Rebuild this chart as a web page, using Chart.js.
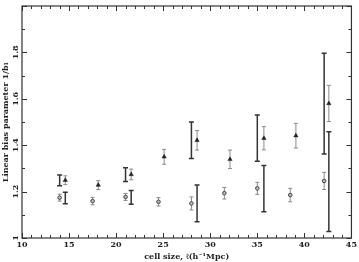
<!DOCTYPE html>
<html>
<head>
<meta charset="utf-8">
<script src="https://cdn.jsdelivr.net/npm/chart.js@4"></script>
<style>
  html, body { margin: 0; padding: 0; background: #fff; }
  #wrap { width: 359px; height: 262px; }
</style>
</head>
<body>
<div id="wrap"><canvas id="c"></canvas></div>
<script>
// circles (lower series) with grey error bars
const circX = [14.0, 17.5, 21.0, 24.5, 28.0, 31.5, 35.0, 38.5, 42.1];
const circY = [1.174, 1.159, 1.177, 1.156, 1.149, 1.193, 1.214, 1.185, 1.246];
const circErr = [0.015, 0.016, 0.015, 0.018, 0.028, 0.025, 0.026, 0.029, 0.037];

// triangles (upper series) with grey error bars
const triX = [14.6, 18.1, 21.6, 25.1, 28.6, 32.1, 35.7, 39.1, 42.6];
const triY = [1.249, 1.228, 1.274, 1.350, 1.421, 1.339, 1.430, 1.441, 1.580];
const triErr = [0.019, 0.019, 0.023, 0.032, 0.042, 0.040, 0.050, 0.053, 0.078];

// black range bars
const rangeUpX = [14.0, 21.0, 28.0, 35.0, 42.1];
const rangeUpLo = [1.225, 1.243, 1.343, 1.331, 1.362];
const rangeUpHi = [1.272, 1.303, 1.500, 1.530, 1.796];
const rangeLowX = [14.6, 21.6, 28.6, 35.7, 42.6];
const rangeLowLo = [1.148, 1.145, 1.070, 1.113, 1.028];
const rangeLowHi = [1.197, 1.205, 1.228, 1.313, 1.458];

const xTicks = [10, 15, 20, 25, 30, 35, 40, 45];
const yTicks = [1.0, 1.2, 1.4, 1.6, 1.8, 2.0];
const yTickLabels = ["1", "1.2", "1.4", "1.6", "1.8", ""];

const FONT = "'DejaVu Serif', serif";

// error bars and range bars drawn with the chart's scales
const errorBars = {
  id: "errorBars",
  beforeDatasetsDraw(chart) {
    const { ctx, scales: { x, y } } = chart;
    const bar = (xv, lo, hi, cap, color, width) => {
      const px = x.getPixelForValue(xv);
      const p1 = y.getPixelForValue(lo);
      const p2 = y.getPixelForValue(hi);
      ctx.strokeStyle = color;
      ctx.lineWidth = width;
      ctx.beginPath();
      ctx.moveTo(px, p1); ctx.lineTo(px, p2);
      ctx.moveTo(px - cap, p1); ctx.lineTo(px + cap, p1);
      ctx.moveTo(px - cap, p2); ctx.lineTo(px + cap, p2);
      ctx.stroke();
    };
    ctx.save();
    circX.forEach((v, i) => bar(v, circY[i] - circErr[i], circY[i] + circErr[i], 2, "#8a8a8a", 1));
    triX.forEach((v, i) => bar(v, triY[i] - triErr[i], triY[i] + triErr[i], 2, "#8a8a8a", 1));
    rangeUpX.forEach((v, i) => bar(v, rangeUpLo[i], rangeUpHi[i], 2.5, "#333", 1.5));
    rangeLowX.forEach((v, i) => bar(v, rangeLowLo[i], rangeLowHi[i], 2.5, "#333", 1.5));
    ctx.restore();
  }
};

// frame with inward ticks on all four sides, plus rotated y labels
const frameTicks = {
  id: "frameTicks",
  afterDraw(chart) {
    const { ctx, chartArea: a, scales: { x, y } } = chart;
    ctx.save();
    ctx.strokeStyle = "#333";
    ctx.lineWidth = 1.2;
    ctx.strokeRect(a.left, a.top, a.right - a.left, a.bottom - a.top);
    ctx.lineWidth = 1;
    ctx.beginPath();
    for (let v = 10; v <= 45; v += 1) {
      const px = Math.round(x.getPixelForValue(v)) + 0.5;
      const len = v % 5 === 0 ? 5 : 3;
      ctx.moveTo(px, a.bottom); ctx.lineTo(px, a.bottom - len);
      ctx.moveTo(px, a.top); ctx.lineTo(px, a.top + len);
    }
    for (let k = 10; k <= 20; k++) {
      const py = Math.round(y.getPixelForValue(k / 10)) + 0.5;
      const len = k % 2 === 0 ? 5 : 3;
      ctx.moveTo(a.left, py); ctx.lineTo(a.left + len, py);
      ctx.moveTo(a.right, py); ctx.lineTo(a.right - len, py);
    }
    ctx.stroke();

    ctx.fillStyle = "#222";
    ctx.font = "bold 8px " + FONT;
    ctx.textAlign = "center";
    ctx.textBaseline = "middle";
    yTicks.forEach((v, i) => {
      ctx.save();
      ctx.translate(a.left - 6, y.getPixelForValue(v));
      ctx.rotate(-Math.PI / 2);
      ctx.fillText(yTickLabels[i], 0, 0);
      ctx.restore();
    });
    ctx.restore();
  }
};

new Chart(document.getElementById("c"), {
  type: "scatter",
  data: {
    datasets: [
      {
        label: "circles",
        data: circX.map((v, i) => ({ x: v, y: circY[i] })),
        pointStyle: "circle",
        pointRadius: 1.8,
        pointBackgroundColor: "#bbb",
        pointBorderColor: "#444",
        pointBorderWidth: 1
      },
      {
        label: "triangles",
        data: triX.map((v, i) => ({ x: v, y: triY[i] })),
        pointStyle: "triangle",
        pointRadius: 2.5,
        pointBackgroundColor: "#222",
        pointBorderColor: "#222",
        pointBorderWidth: 0.5
      }
    ]
  },
  options: {
    responsive: true,
    maintainAspectRatio: false,
    animation: false,
    layout: { padding: { top: 6, right: 6, left: 0, bottom: 0 } },
    plugins: { legend: { display: false }, tooltip: { enabled: false } },
    scales: {
      x: {
        type: "linear",
        min: 10,
        max: 45,
        afterBuildTicks: (s) => { s.ticks = xTicks.map((v) => ({ value: v })); },
        ticks: { color: "#222", font: { family: FONT, size: 8, weight: "bold" }, padding: 2, maxRotation: 0 },
        grid: { display: false, drawTicks: false },
        border: { display: false },
        title: {
          display: true,
          text: "cell size, \u2113(h\u207B\u00B9Mpc)",
          color: "#222",
          font: { family: FONT, size: 8, weight: "bold" },
          padding: { top: 2, bottom: 0 }
        },
        afterFit: (s) => { s.height = 24; }
      },
      y: {
        type: "linear",
        min: 1,
        max: 2,
        ticks: { display: false },
        grid: { display: false, drawTicks: false },
        border: { display: false },
        title: {
          display: true,
          text: "Linear bias parameter 1/b\u2081",
          color: "#222",
          font: { family: FONT, size: 8, weight: "bold" },
          padding: { top: 1, bottom: 0 }
        },
        afterFit: (s) => { s.width = 22; }
      }
    }
  },
  plugins: [errorBars, frameTicks]
});
</script>
</body>
</html>
